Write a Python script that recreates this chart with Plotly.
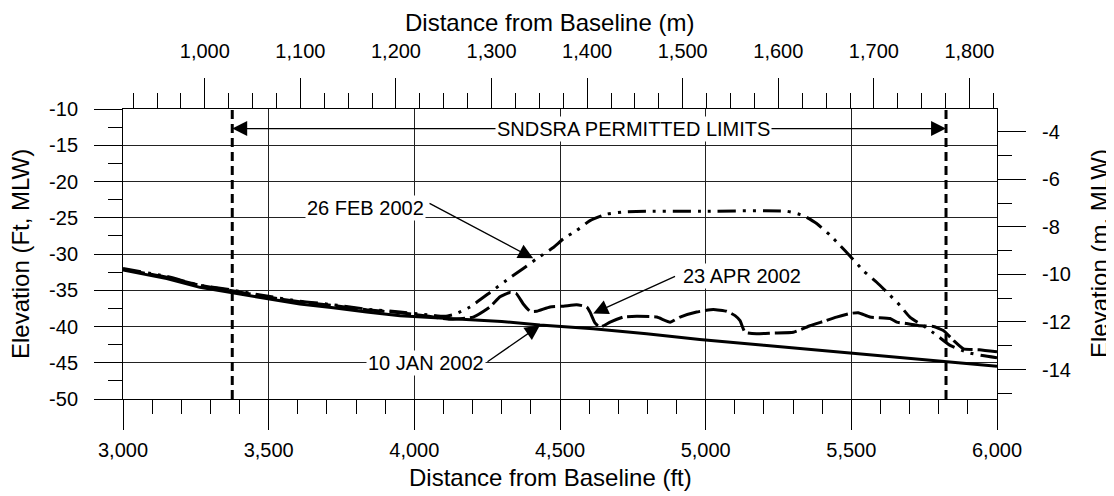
import plotly.graph_objects as go

# ---------------- data ----------------
M_PER_FT = 0.3048

JAN_FT = [3000, 3150, 3264, 3379, 3493, 3607, 3722, 3836, 3951, 4133, 4300, 4431,
          4614, 4797, 4980, 5200, 5427, 5600, 5800, 6000]
JAN_EL = [-32.2, -33.4, -34.6, -35.4, -36.2, -36.9, -37.4, -38.0, -38.5, -38.9, -39.3, -39.8,
          -40.3, -41.0, -41.8, -42.6, -43.4, -44.0, -44.7, -45.5]

FEB_FT = [3000, 3150, 3264, 3379, 3493, 3607, 3722, 3836, 3951, 4050, 4105, 4140, 4191,
          4260, 4317, 4374, 4420, 4477, 4512, 4557, 4603, 4660, 4717, 4800, 5000, 5278,
          5335, 5381, 5427, 5461, 5496, 5541, 5587, 5633, 5667, 5701, 5747, 5793, 5839,
          5900, 5950, 6000]
FEB_EL = [-32.0, -33.1, -34.3, -35.0, -35.8, -36.5, -37.0, -37.6, -38.0, -38.4, -38.6, -38.3, -37.3,
          -35.3, -33.6, -32.0, -30.65, -29.1, -27.9, -26.75, -25.4, -24.5, -24.2, -24.1, -24.1, -24.1,
          -24.7, -25.8, -27.4, -28.8, -30.3, -32.3, -33.9, -35.7, -37.1, -38.7, -39.9, -41.2, -42.6,
          -43.6, -44.0, -44.3]

APR_FT = [3000, 3150, 3264, 3379, 3493, 3607, 3722, 3836, 3951, 4050, 4122, 4202, 4260,
          4294, 4328, 4351, 4374, 4397, 4420, 4466, 4512, 4557, 4592, 4603, 4620, 4637,
          4672, 4717, 4763, 4832, 4878, 4912, 4969, 5026, 5072, 5101, 5118, 5135, 5175,
          5232, 5301, 5358, 5404, 5449, 5496, 5524, 5564, 5633, 5656, 5690, 5736, 5782,
          5816, 5850, 5885, 5940, 6000]
APR_EL = [-32.1, -33.2, -34.3, -35.1, -35.9, -36.6, -37.1, -37.7, -38.1, -38.6, -39.0, -38.7, -37.3,
          -35.9, -35.3, -35.5, -36.9, -37.9, -37.9, -37.3, -37.2, -37.0, -37.3, -38.0, -39.5, -40.1,
          -39.4, -38.7, -38.6, -38.7, -39.4, -38.7, -38.0, -37.65, -37.9, -38.5, -39.2, -40.8, -41.0,
          -40.9, -40.8, -39.9, -39.3, -38.7, -38.2, -38.1, -38.7, -38.9, -39.4, -39.6, -39.9, -40.0,
          -40.55, -41.9, -43.1, -43.2, -43.5]

LIMITS_FT = [3375, 5825]
LIMITS_LABEL = "SNDSRA PERMITTED LIMITS"

SURVEY_LABELS = ["10 JAN 2002", "26 FEB 2002", "23 APR 2002"]
# label centre (ft, elev), arrow tail (ft, elev), arrow tip (ft, elev)
LABEL_POS = [(4040, -45.0), (3831, -23.6), (5125, -33.0)]
ARROW_TAIL = [(4246, -45.0), (4047, -22.9), (4900, -33.0)]
ARROW_TIP = [(4431, -39.85), (4408, -30.6), (4614, -38.2)]

X_RANGE_FT = [3000, 6000]
Y_RANGE_FT = [-50, -10]

Y_TICKS_FT = [-50, -45, -40, -35, -30, -25, -20, -15, -10]
Y_TICKTEXT_FT = ["-50", "-45", "-40", "-35", "-30", "-25", "-20", "-15", "-10"]
Y_TICKS_M = [-14, -12, -10, -8, -6, -4]
Y_TICKTEXT_M = ["-14", "-12", "-10", "-8", "-6", "-4"]

FONT = "Liberation Sans, Arial, sans-serif"

fig = go.Figure()

fig.add_trace(go.Scatter(x=JAN_FT, y=JAN_EL, mode="lines", name="10 JAN 2002",
                         line=dict(color="black", width=3)))
fig.add_trace(go.Scatter(x=FEB_FT, y=FEB_EL, mode="lines", name="26 FEB 2002",
                         line=dict(color="black", width=3,
                                   dash="18px,7px,3px,7px,3px,7px", shape="spline", smoothing=0.5)))
fig.add_trace(go.Scatter(x=APR_FT, y=APR_EL, mode="lines", name="23 APR 2002",
                         line=dict(color="black", width=3, dash="22px,5px",
                                   shape="spline", smoothing=0.4)))
# invisible trace so the metric axes are drawn
fig.add_trace(go.Scatter(x=[v * M_PER_FT for v in JAN_FT], y=[v * M_PER_FT for v in JAN_EL],
                         xaxis="x2", yaxis="y2", mode="lines", opacity=0,
                         line=dict(width=0), hoverinfo="skip", showlegend=False))

# permitted-limit vertical dashed lines
for xv in LIMITS_FT:
    fig.add_shape(type="line", xref="x", yref="y", x0=xv, x1=xv,
                  y0=Y_RANGE_FT[0], y1=Y_RANGE_FT[1],
                  line=dict(color="black", width=3, dash="9px,5px"))

annotations = []
lim_mid = 4751
lim_y = -12.7
for xv in LIMITS_FT:
    annotations.append(dict(x=xv, y=lim_y, ax=lim_mid, ay=lim_y, xref="x", yref="y",
                            axref="x", ayref="y", text="", showarrow=True,
                            arrowhead=2, arrowsize=2.3, arrowwidth=1.3, arrowcolor="black"))
annotations.append(dict(x=lim_mid, y=lim_y, xref="x", yref="y", text=LIMITS_LABEL,
                        showarrow=False, bgcolor="white", borderpad=1,
                        font=dict(family=FONT, size=20, color="black")))

for lab, pos, tail, tip in zip(SURVEY_LABELS, LABEL_POS, ARROW_TAIL, ARROW_TIP):
    annotations.append(dict(x=tip[0], y=tip[1], ax=tail[0], ay=tail[1], xref="x", yref="y",
                            axref="x", ayref="y", text="", showarrow=True,
                            arrowhead=2, arrowsize=2.3, arrowwidth=1.3, arrowcolor="black"))
    annotations.append(dict(x=pos[0], y=pos[1], xref="x", yref="y", text=lab,
                            showarrow=False, bgcolor="white", borderpad=1,
                            font=dict(family=FONT, size=20, color="black")))

# axis titles
annotations += [
    dict(text="Distance from Baseline (m)", xref="paper", yref="paper", x=0.5, y=1,
         xanchor="center", yanchor="middle", yshift=87, xshift=-11, showarrow=False,
         font=dict(family=FONT, size=24, color="black")),
    dict(text="Distance from Baseline (ft)", xref="paper", yref="paper", x=0.5, y=0,
         xanchor="center", yanchor="middle", yshift=-78, xshift=-10, showarrow=False,
         font=dict(family=FONT, size=24, color="black")),
    dict(text="Elevation (Ft, MLW)", xref="paper", yref="paper", x=0, y=0.5,
         xanchor="center", yanchor="middle", xshift=-103, textangle=-90, showarrow=False,
         font=dict(family=FONT, size=24, color="black")),
    dict(text="Elevation (m, MLW)", xref="paper", yref="paper", x=1, y=0.5,
         xanchor="center", yanchor="middle", xshift=102, textangle=-90, showarrow=False,
         font=dict(family=FONT, size=24, color="black")),
]

tickfont = dict(family=FONT, size=20, color="black")
common = dict(showline=True, linecolor="black", linewidth=1, ticks="outside",
              tickcolor="black", tickwidth=1, zeroline=False, tickfont=tickfont)

# the page body adds an 8 px offset, so the figure is 8 px smaller than the window
fig.update_layout(
    width=1106, height=488,
    margin=dict(l=115, r=117, t=101, b=97),
    paper_bgcolor="white", plot_bgcolor="white",
    showlegend=False,
    font=dict(family=FONT, size=20, color="black"),
    xaxis=dict(range=X_RANGE_FT, tick0=3000, dtick=500, tickformat=",d", ticklen=30,
               showgrid=True, gridcolor="#222", gridwidth=1, ticklabelstandoff=3,
               minor=dict(dtick=100, ticks="outside", ticklen=14, tickcolor="black",
                          showgrid=False), **common),
    yaxis=dict(range=Y_RANGE_FT, tickmode="array", tickvals=Y_TICKS_FT, ticktext=Y_TICKTEXT_FT,
               ticklen=28, showgrid=True, gridcolor="#222", gridwidth=1, ticklabelstandoff=12,
               minor=dict(tickmode="linear", tick0=0, dtick=2.5, ticks="outside", ticklen=14,
                          tickcolor="black", showgrid=False), **common),
    xaxis2=dict(overlaying="x", side="top", anchor="y",
                range=[v * M_PER_FT for v in X_RANGE_FT], tick0=0, dtick=100,
                tickformat=",d", ticklen=30, showgrid=False, ticklabelstandoff=12,
                minor=dict(dtick=25, ticks="outside", ticklen=15, tickcolor="black",
                           showgrid=False), **common),
    yaxis2=dict(overlaying="y", side="right", anchor="x",
                range=[v * M_PER_FT for v in Y_RANGE_FT], tickmode="array",
                tickvals=Y_TICKS_M, ticktext=Y_TICKTEXT_M, ticklen=28,
                showgrid=False, ticklabelstandoff=12,
                minor=dict(tickmode="linear", tick0=0, dtick=1, ticks="outside", ticklen=14,
                           tickcolor="black", showgrid=False), **common),
    annotations=annotations,
)

fig.write_html("out.html")
